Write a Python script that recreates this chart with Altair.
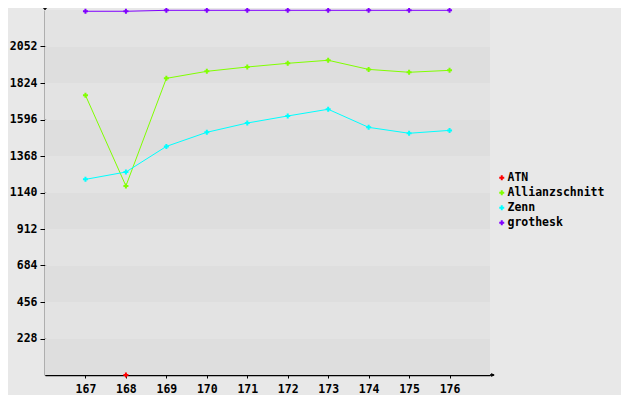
import altair as alt
import pandas as pd

x_values = [167, 168, 169, 170, 171, 172, 173, 174, 175, 176]
series_names = ["ATN", "Allianzschnitt", "Zenn", "grothesk"]
series_colors = ["#ff0000", "#80ff00", "#00ffff", "#8000ff"]
atn_x = [168]
atn_y = [0]
allianz_y = [1747, 1181, 1853, 1897, 1924, 1947, 1966, 1909, 1891, 1903]
zenn_y = [1222, 1268, 1428, 1516, 1574, 1618, 1660, 1547, 1510, 1528]
grothesk_y = [2272, 2272, 2278, 2278, 2278, 2278, 2278, 2278, 2278, 2278]
y_ticks = [228, 456, 684, 912, 1140, 1368, 1596, 1824, 2052]
band_edges = [0, 228, 456, 684, 912, 1140, 1368, 1596, 1824, 2052, 2280]

rows = []
for xv, yv in zip(atn_x, atn_y):
    rows.append({"x": xv, "y": yv, "series": "ATN"})
for name, ys_ in [("Allianzschnitt", allianz_y), ("Zenn", zenn_y), ("grothesk", grothesk_y)]:
    for xv, yv in zip(x_values, ys_):
        rows.append({"x": xv, "y": yv, "series": name})
df = pd.DataFrame(rows)

bands = pd.DataFrame({
    "lo": band_edges[:-1],
    "hi": band_edges[1:],
    "shade": ["#dedede" if i % 2 == 0 else "#e3e3e3" for i in range(len(band_edges) - 1)],
})

W, H = 445, 365
FONT = "DejaVu Sans Mono"

xs = alt.Scale(domain=[166, 177], nice=False)
ys = alt.Scale(domain=[0, 2280], nice=False)
cs = alt.Scale(domain=series_names, range=series_colors)

x_axis = alt.Axis(
    values=x_values, format="d", title=None, grid=False,
    domainColor="black", domainWidth=1.5, tickColor="black", tickSize=3,
    labelFont=FONT, labelFontSize=11.5, labelFontWeight="bold", labelColor="black",
    labelPadding=5)
y_axis = alt.Axis(
    values=y_ticks, format="d", title=None, grid=False,
    domainColor="black", domainWidth=1.5, tickColor="black", tickSize=5,
    labelFont=FONT, labelFontSize=11.5, labelFontWeight="bold", labelColor="black",
    labelPadding=3)
legend = alt.Legend(
    orient="none", legendX=451, legendY=162, title=None,
    symbolType="cross", symbolSize=25, symbolStrokeWidth=0,
    labelFont=FONT, labelFontSize=11.5, labelFontWeight="bold", labelColor="black",
    rowPadding=2, labelOffset=0, padding=0)

band_layer = alt.Chart(bands).mark_rect().encode(
    x=alt.value(0), x2=alt.value(W),
    y=alt.Y("lo:Q", scale=ys, axis=y_axis),
    y2="hi:Q",
    fill=alt.Fill("shade:N", scale=None),
)

line_layer = alt.Chart(df).mark_line(strokeWidth=1).encode(
    x=alt.X("x:Q", scale=xs, axis=x_axis),
    y=alt.Y("y:Q", scale=ys, axis=y_axis),
    color=alt.Color("series:N", scale=cs, legend=legend),
    detail="series:N",
)

point_layer = alt.Chart(df).mark_point(filled=True, shape="cross", size=25, opacity=1).encode(
    x=alt.X("x:Q", scale=xs, axis=x_axis),
    y=alt.Y("y:Q", scale=ys, axis=y_axis),
    color=alt.Color("series:N", scale=cs, legend=legend),
)

arrow_df = pd.DataFrame({"k": [1]})
y_ext = alt.Chart(arrow_df).mark_rule(color="black", strokeWidth=1.5).encode(
    x=alt.value(0), y=alt.value(-5), y2=alt.value(0))
y_arrow = alt.Chart(arrow_df).mark_point(shape="triangle-up", filled=True, size=18, color="black", opacity=1).encode(
    x=alt.value(0), y=alt.value(-3))
x_ext = alt.Chart(arrow_df).mark_rule(color="black", strokeWidth=1.5).encode(
    x=alt.value(W), x2=alt.value(W + 4), y=alt.value(H))
x_arrow = alt.Chart(arrow_df).mark_point(shape="triangle-right", filled=True, size=18, color="black", opacity=1).encode(
    x=alt.value(W + 3), y=alt.value(H))

chart = alt.layer(band_layer, line_layer, point_layer, y_ext, y_arrow, x_ext, x_arrow).properties(
    width=W, height=H,
    autosize=alt.AutoSizeParams(type="none"),
    padding={"left": 37, "top": 2, "right": 131, "bottom": 20},
    background="#e8e8e8",
).configure_view(stroke=None)

chart.save("out.html", embed_options={"renderer": "svg", "actions": False})
